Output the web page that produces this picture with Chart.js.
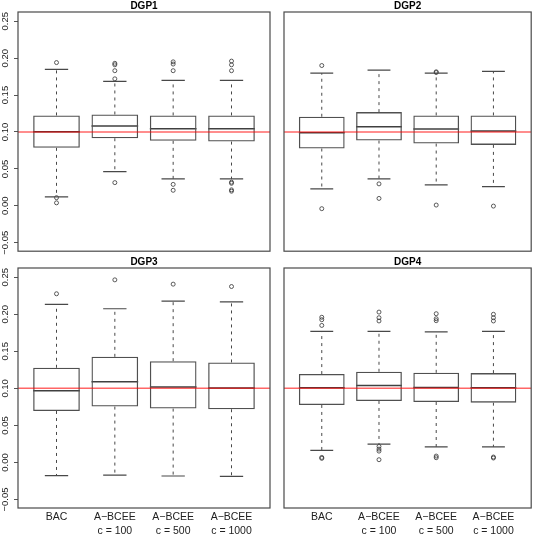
<!DOCTYPE html>
<html>
<head>
<meta charset="utf-8">
<script src="https://cdn.jsdelivr.net/npm/chart.js@4.4.1/dist/chart.umd.min.js"></script>
<style>
  html, body { margin: 0; padding: 0; background: #fff; }
  #wrap { position: relative; width: 536px; height: 534px; overflow: hidden; }
  .cell { position: absolute; }
</style>
</head>
<body>
<div id="wrap">
  <div class="cell" style="left:0;top:0;width:277px;height:256px"><canvas id="dgp1"></canvas></div>
  <div class="cell" style="left:277px;top:0;width:259px;height:256px"><canvas id="dgp2"></canvas></div>
  <div class="cell" style="left:0;top:256px;width:277px;height:278px"><canvas id="dgp3"></canvas></div>
  <div class="cell" style="left:277px;top:256px;width:259px;height:278px"><canvas id="dgp4"></canvas></div>
</div>
<script>
// methods on the x axis
const methodLabels = ['BAC', ['A\u2212BCEE', 'c = 100'], ['A\u2212BCEE', 'c = 500'], ['A\u2212BCEE', 'c = 1000']];
const panelTitles = ['DGP1', 'DGP2', 'DGP3', 'DGP4'];
const trueValue = 0.1;

// one row per DGP, one column per method
const lowerWhisker = [
  [0.0122, 0.0462, 0.0364, 0.0364],
  [0.0229, 0.0364, 0.0283, 0.0260],
  [-0.0178, -0.0170, -0.0183, -0.0187],
  [0.0162, 0.0247, 0.0211, 0.0211]
];
const firstQuartile = [
  [0.0785, 0.0915, 0.0880, 0.0870],
  [0.0776, 0.0884, 0.0843, 0.0825],
  [0.0695, 0.0754, 0.0727, 0.0718],
  [0.0776, 0.0830, 0.0816, 0.0807]
];
const medians = [
  [0.1004, 0.1080, 0.1045, 0.1045],
  [0.0991, 0.1072, 0.1040, 0.1013],
  [0.0969, 0.1090, 0.1018, 0.1004],
  [0.1009, 0.1040, 0.1013, 0.1009]
];
const thirdQuartile = [
  [0.1224, 0.1237, 0.1224, 0.1224],
  [0.1206, 0.1269, 0.1224, 0.1224],
  [0.1278, 0.1426, 0.1367, 0.1350],
  [0.1193, 0.1224, 0.1210, 0.1206]
];
const upperWhisker = [
  [0.1847, 0.1685, 0.1700, 0.1700],
  [0.1797, 0.1838, 0.1797, 0.1820],
  [0.2133, 0.2075, 0.2178, 0.2169],
  [0.1770, 0.1770, 0.1762, 0.1770]
];
const outliers = [
  [[0.194, 0.011, 0.004], [0.193, 0.191, 0.183, 0.172, 0.0314], [0.195, 0.192, 0.183, 0.029, 0.021], [0.196, 0.191, 0.183, 0.032, 0.0305, 0.0216, 0.0198]],
  [[0.190, -0.0039], [0.0297, 0.010], [0.1815, 0.1805, 0.001], [-0.0004]],
  [[0.2277], [0.2465], [0.2407], [0.2375]],
  [[0.196, 0.1927, 0.185, 0.0068, 0.0055], [0.203, 0.1954, 0.191, 0.0216, 0.018, 0.0153, 0.0037], [0.2008, 0.194, 0.1914, 0.0086, 0.0064], [0.200, 0.1954, 0.191, 0.0073, 0.006]]
];

const yMin = -0.0615;
const yMax = 0.2625;
const xMin = 0.34;
const xMax = 4.66;
const boxWidth = 0.8;
const capWidth = 0.4;

Chart.defaults.font.family = '"Liberation Sans", Arial, Helvetica, sans-serif';
Chart.defaults.color = '#222';

const frame = {
  id: 'frame',
  afterDraw(chart) {
    const { ctx, chartArea: a } = chart;
    ctx.save();
    ctx.strokeStyle = '#4a4a4a';
    ctx.lineWidth = 1.2;
    ctx.strokeRect(a.left, a.top, a.right - a.left, a.bottom - a.top);
    ctx.restore();
  }
};

const fmtY = (v) => {
  const r = Math.round(v * 100) / 100;
  return (r < 0 ? '\u2212' : '') + Math.abs(r).toFixed(2);
};

function segments(d, half, lo, hi) {
  const pts = [];
  lo[d].forEach((v, i) => {
    pts.push({ x: i + 1 - half, y: v }, { x: i + 1 + half, y: v }, { x: i + 1 + half, y: null });
    if (hi) pts.push({ x: i + 1 - half, y: hi[d][i] }, { x: i + 1 + half, y: hi[d][i] }, { x: i + 1 + half, y: null });
  });
  return pts;
}

function whiskers(d) {
  const pts = [];
  medians[d].forEach((m, i) => {
    pts.push({ x: i + 1, y: thirdQuartile[d][i] }, { x: i + 1, y: upperWhisker[d][i] }, { x: i + 1, y: null });
    pts.push({ x: i + 1, y: firstQuartile[d][i] }, { x: i + 1, y: lowerWhisker[d][i] }, { x: i + 1, y: null });
  });
  return pts;
}

function makePanel(d) {
  const showY = d % 2 === 0;
  const showX = d >= 2;
  const canvas = document.getElementById('dgp' + (d + 1));

  new Chart(canvas, {
    type: 'bar',
    data: {
      datasets: [
        {
          type: 'line',
          order: 0,
          data: [{ x: xMin, y: trueValue }, { x: xMax, y: trueValue }],
          borderColor: 'rgba(255, 0, 0, 0.6)',
          borderWidth: 1.5,
          pointRadius: 0,
        },
        {
          type: 'bar',
          order: 1,
          data: medians[d].map((m, i) => ({ x: i + 1, y: [firstQuartile[d][i], thirdQuartile[d][i]] })),
          backgroundColor: 'rgba(0, 0, 0, 0)',
          borderColor: '#505050',
          borderWidth: 1.3,
          borderSkipped: false,
          barPercentage: boxWidth,
          categoryPercentage: 1,
        },
        {
          type: 'line',
          order: 1,
          data: segments(d, boxWidth / 2, medians),
          borderColor: '#404040',
          borderWidth: 1.5,
          pointRadius: 0,
          spanGaps: false,
        },
        {
          type: 'line',
          order: 1,
          data: segments(d, capWidth / 2, lowerWhisker, upperWhisker),
          borderColor: '#484848',
          borderWidth: 1.2,
          pointRadius: 0,
          spanGaps: false,
        },
        {
          type: 'line',
          order: 1,
          data: whiskers(d),
          borderColor: '#484848',
          borderWidth: 1,
          borderDash: [3, 4],
          pointRadius: 0,
          spanGaps: false,
        },
        {
          type: 'scatter',
          order: 1,
          data: outliers[d].flatMap((vals, i) => vals.map((v) => ({ x: i + 1, y: v }))),
          pointRadius: 2,
          pointBorderWidth: 0.8,
          pointBorderColor: '#333',
          pointBackgroundColor: 'rgba(0, 0, 0, 0)',
        },
      ],
    },
    options: {
      responsive: true,
      maintainAspectRatio: false,
      animation: false,
      events: [],
      layout: {
        padding: {
          left: showY ? 0 : 7,
          right: showY ? 7 : 1,
          top: 0,
          bottom: showX ? 0 : 3,
        },
      },
      plugins: {
        legend: { display: false },
        tooltip: { enabled: false },
        title: {
          display: true,
          text: panelTitles[d],
          fullSize: false,
          color: '#000',
          padding: 0,
          font: { size: 10, weight: 'bold', lineHeight: 1.2 },
        },
      },
      scales: {
        x: {
          type: 'linear',
          display: showX,
          min: xMin,
          max: xMax,
          offset: false,
          grid: { display: false, drawTicks: false, tickLength: 0 },
          border: { display: false },
          afterFit: (scale) => { if (showX) scale.height = 26; },
          ticks: {
            stepSize: 1,
            includeBounds: false,
            autoSkip: false,
            maxRotation: 0,
            padding: 3,
            font: { size: 10.5, lineHeight: 1.25 },
            callback: (v) => methodLabels[Math.round(v) - 1],
          },
        },
        y: {
          type: 'linear',
          display: showY,
          min: yMin,
          max: yMax,
          grid: { drawOnChartArea: false, tickLength: 4, color: '#555' },
          border: { display: false },
          afterFit: (scale) => { if (showY) scale.width = 18; },
          ticks: {
            stepSize: 0.05,
            includeBounds: false,
            autoSkip: false,
            minRotation: 90,
            maxRotation: 90,
            crossAlign: 'center',
            padding: -3,
            font: { size: 9.5 },
            callback: fmtY,
          },
        },
      },
    },
    plugins: [frame],
  });
}

[0, 1, 2, 3].forEach(makePanel);
</script>
</body>
</html>
